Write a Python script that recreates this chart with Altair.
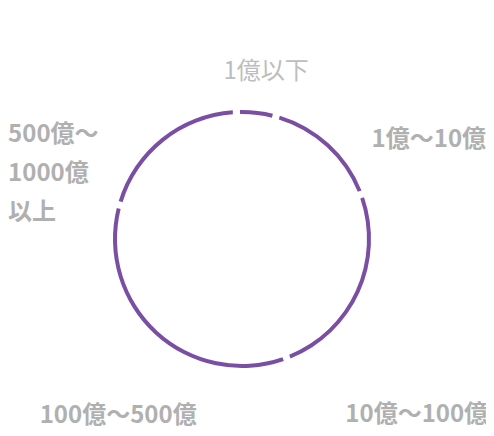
import math
import altair as alt
import pandas as pd

categories = ["1億以下", "1億〜10億", "10億〜100億", "100億〜500億", "500億〜1000億以上"]
shares = [5, 15, 25, 35, 20]
label_lines = [["1億以下"], ["1億〜10億"], ["10億〜100億"], ["100億〜500億"], ["500億〜", "1000億", "以上"]]

df = pd.DataFrame({"category": categories, "share": shares, "order": list(range(len(categories))),
                   "label": label_lines})

PURPLE = "#7a4fa3"
offset = -0.044
theta_scale = alt.Scale(domain=[0, 100], range=[offset, 2 * math.pi + offset])

base = alt.Chart(df).transform_window(
    cum="sum(share)", sort=[alt.SortField("order")]
).transform_calculate(
    mid="datum.cum - datum.share / 2"
)

ring = alt.Chart(df).mark_arc(
    innerRadius=125, outerRadius=129, padAngle=0.04, color=PURPLE
).encode(
    theta=alt.Theta("share:Q", stack=True, scale=alt.Scale(range=[offset, 2 * math.pi + offset])),
    order=alt.Order("order:Q"),
)

def label(cat, dx, dy, align, baseline, weight, color):
    return base.transform_filter(alt.datum.category == cat).mark_text(
        radius=170, dx=dx, dy=dy, align=align, baseline=baseline,
        font="Noto Sans CJK JP", fontSize=24, fontWeight=weight, color=color,
        lineHeight=39,
    ).encode(
        theta=alt.Theta("mid:Q", stack=None, scale=theta_scale),
        text="label",
    )

labels = [
    label(categories[0], 5, 2, "center", "middle", "normal", "#bdbdbd"),
    label(categories[1], 72, 26, "center", "middle", "bold", "#b0b0b0"),
    label(categories[2], 20, 106, "center", "middle", "bold", "#b0b0b0"),
    label(categories[3], -9, 52, "center", "middle", "bold", "#b0b0b0"),
    label(categories[4], -128, 17, "left", "top", "bold", "#b0b0b0"),
]

chart = alt.layer(ring, *labels).properties(
    width=468, height=378,
    autosize=alt.AutoSizeParams(type="none"),
    padding={"left": 0, "top": 42, "right": 10, "bottom": 0},
).configure_view(stroke=None)

chart.save("out.html", embed_options={"renderer": "svg", "actions": False})
